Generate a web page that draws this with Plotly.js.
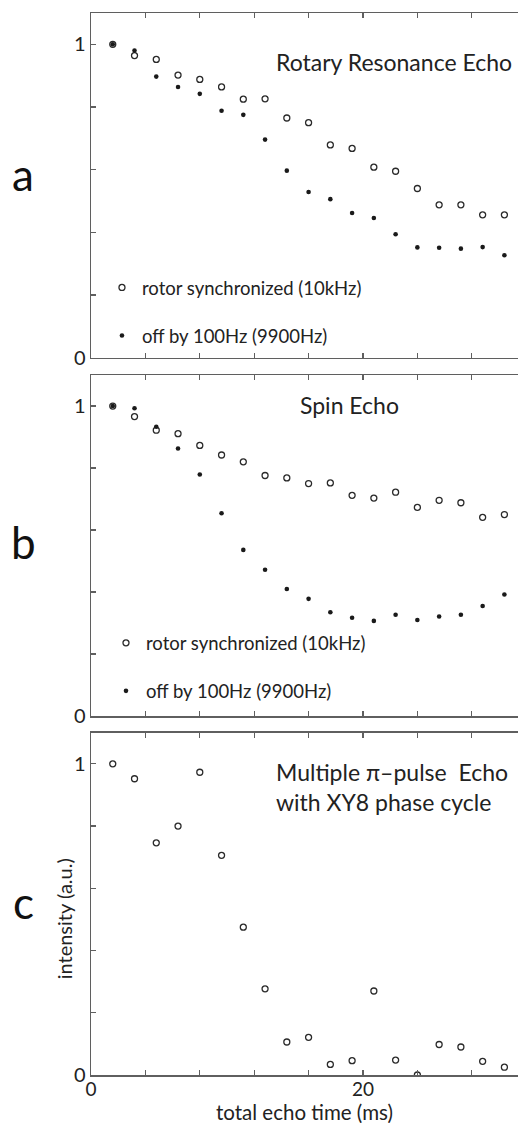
<!DOCTYPE html>
<html>
<head>
<meta charset="utf-8">
<script src="https://cdn.plot.ly/plotly-3.0.1.min.js"></script>
<style>
html,body{margin:0;padding:0;background:#fff;overflow:hidden;}
#chart{width:518px;height:1123px;}
</style>
</head>
<body>
<div id="chart"></div>
<script>
// total echo time (ms)
var echoTime = [1.6, 3.2, 4.8, 6.4, 8.0, 9.6, 11.2, 12.8, 14.4, 16.0, 17.6, 19.2, 20.8, 22.4, 24.0, 25.6, 27.2, 28.8, 30.4];
// panel a: Rotary Resonance Echo
var rreSync = [1.0, 0.964, 0.952, 0.902, 0.888, 0.864, 0.825, 0.826, 0.765, 0.750, 0.679, 0.668, 0.608, 0.595, 0.540, 0.488, 0.488, 0.456, 0.456];
var rreOff  = [1.0, 0.980, 0.897, 0.864, 0.842, 0.788, 0.775, 0.696, 0.597, 0.529, 0.506, 0.462, 0.446, 0.394, 0.352, 0.351, 0.348, 0.353, 0.327];
// panel b: Spin Echo
var seSync = [1.0, 0.966, 0.922, 0.911, 0.873, 0.842, 0.820, 0.776, 0.768, 0.750, 0.752, 0.712, 0.703, 0.722, 0.673, 0.696, 0.688, 0.641, 0.650];
var seOff  = [1.0, 0.993, 0.933, 0.863, 0.779, 0.654, 0.536, 0.472, 0.410, 0.378, 0.335, 0.317, 0.307, 0.327, 0.310, 0.321, 0.327, 0.355, 0.392];
// panel c: Multiple pi-pulse Echo with XY8
var xy8 = [1.0, 0.952, 0.746, 0.800, 0.973, 0.706, 0.475, 0.277, 0.106, 0.121, 0.034, 0.046, 0.270, 0.048, 0.0, 0.098, 0.090, 0.044, 0.025];

var legendSync = 'rotor synchronized (10kHz)';
var legendOff = 'off by 100Hz (9900Hz)';
var xTickVals = [0, 4, 8, 12, 16, 20, 24, 28];
var xTickText = ['0', '', '', '', '', '20', '', ''];
var yTickVals = [0, 0.2, 0.4, 0.6, 0.8, 1.0];
var yTickText = ['0', '', '', '', '', '1'];

var FONT = 'Lato, "Open Sans", sans-serif';
var AX = '#5f5f5f';
var MK = '#1a1a1a';

function openTrace(y, xa, ya, name, leg, show) {
  return {x: echoTime, y: y, xaxis: xa, yaxis: ya, type: 'scatter', mode: 'markers',
    name: name, legend: leg, legendgroup: name + leg, showlegend: show,
    marker: {symbol: 'circle-open', size: 6, color: '#2a2a2a', line: {width: 1.3, color: '#2a2a2a'}},
    hoverinfo: 'x+y'};
}
function dotTrace(y, xa, ya, name, leg) {
  return {x: echoTime, y: y, xaxis: xa, yaxis: ya, type: 'scatter', mode: 'markers',
    name: name, legend: leg, legendgroup: name + leg, showlegend: true,
    marker: {symbol: 'circle', size: 4.6, color: MK},
    hoverinfo: 'x+y'};
}

var data = [
  openTrace(rreSync, 'x', 'y', legendSync, 'legend', true),
  dotTrace(rreOff, 'x', 'y', legendOff, 'legend'),
  openTrace(seSync, 'x2', 'y2', legendSync, 'legend2', true),
  dotTrace(seOff, 'x2', 'y2', legendOff, 'legend2'),
  openTrace(xy8, 'x3', 'y3', 'xy8', 'legend', false)
];

function xAxis(anchor, labels) {
  return {anchor: anchor, range: [0, 31.4], showgrid: false, zeroline: false,
    showline: true, linecolor: AX, linewidth: 1.5, mirror: 'ticks',
    ticks: 'inside', ticklen: 5, tickwidth: 1.2, tickcolor: AX,
    tickmode: 'array', tickvals: xTickVals, ticktext: labels ? xTickText : xTickVals.map(function(){return '';}),
    showticklabels: labels, tickfont: {family: FONT, size: 19, color: '#222'}, ticklabelstandoff: -3,
    automargin: false, fixedrange: true};
}
function yAxis(anchor, domain) {
  return {anchor: anchor, domain: domain, range: [0, 1.1], showgrid: false, zeroline: false,
    showline: true, linecolor: AX, linewidth: 1.5, mirror: false,
    ticks: 'inside', ticklen: 5, tickwidth: 1.2, tickcolor: AX,
    tickmode: 'array', tickvals: yTickVals, ticktext: yTickText,
    tickfont: {family: FONT, size: 20, color: '#222'}, automargin: false, fixedrange: true};
}

var titleFont = {family: FONT, size: 23, color: '#222'};
var panelFont = {family: FONT, size: 44, color: '#111'};

var layout = {
  width: 518, height: 1123,
  margin: {l: 91, r: 0, t: 13, b: 48, pad: 0},
  paper_bgcolor: '#fff', plot_bgcolor: '#fff',
  font: {family: FONT, color: '#222'},
  showlegend: true,
  xaxis: xAxis('y', false),
  yaxis: yAxis('x', [0.6754, 1.0]),
  xaxis2: xAxis('y2', false),
  yaxis2: yAxis('x2', [0.3380, 0.6591]),
  xaxis3: xAxis('y3', true),
  yaxis3: yAxis('x3', [0.0, 0.3223]),
  legend: {x: 0.0257, y: 0.7590, xanchor: 'left', yanchor: 'top', bgcolor: 'rgba(0,0,0,0)',
    font: {family: FONT, size: 18.5, color: '#222'}, traceorder: 'grouped', tracegroupgap: 21},
  legend2: {x: 0.0351, y: 0.4244, xanchor: 'left', yanchor: 'top', bgcolor: 'rgba(0,0,0,0)',
    font: {family: FONT, size: 18.5, color: '#222'}, traceorder: 'grouped', tracegroupgap: 21},
  annotations: [
    {text: 'Rotary Resonance Echo', xref: 'paper', yref: 'paper', x: 0.4297, y: 0.9542,
      xanchor: 'left', yanchor: 'middle', showarrow: false, font: titleFont},
    {text: 'Spin Echo', xref: 'paper', yref: 'paper', x: 0.4858, y: 0.6309,
      xanchor: 'left', yanchor: 'middle', showarrow: false, font: titleFont},
    {text: 'Multiple \u03c0\u2013pulse  Echo<br>with XY8 phase cycle', xref: 'paper', yref: 'paper', x: 0.4297, y: 0.2709,
      xanchor: 'left', yanchor: 'middle', align: 'left', showarrow: false, font: titleFont},
    {text: 'a', xref: 'paper', yref: 'paper', x: -0.1584, y: 0.8484, xanchor: 'center', yanchor: 'middle', showarrow: false, font: panelFont},
    {text: 'b', xref: 'paper', yref: 'paper', x: -0.1584, y: 0.5020, xanchor: 'center', yanchor: 'middle', showarrow: false, font: panelFont},
    {text: 'c', xref: 'paper', yref: 'paper', x: -0.1584, y: 0.1630, xanchor: 'center', yanchor: 'middle', showarrow: false, font: panelFont},
    {text: 'intensity (a.u.)', xref: 'paper', yref: 'paper', x: -0.0625, y: 0.1469, textangle: -90,
      xanchor: 'center', yanchor: 'middle', showarrow: false, font: {family: FONT, size: 20, color: '#222'}},
    {text: 'total echo time (ms)', xref: 'paper', yref: 'paper', x: 0.5, y: -0.0347,
      xanchor: 'center', yanchor: 'middle', showarrow: false, font: {family: FONT, size: 20.5, color: '#222'}}
  ]
};

Plotly.newPlot('chart', data, layout, {displayModeBar: false, staticPlot: true});
</script>
</body>
</html>
